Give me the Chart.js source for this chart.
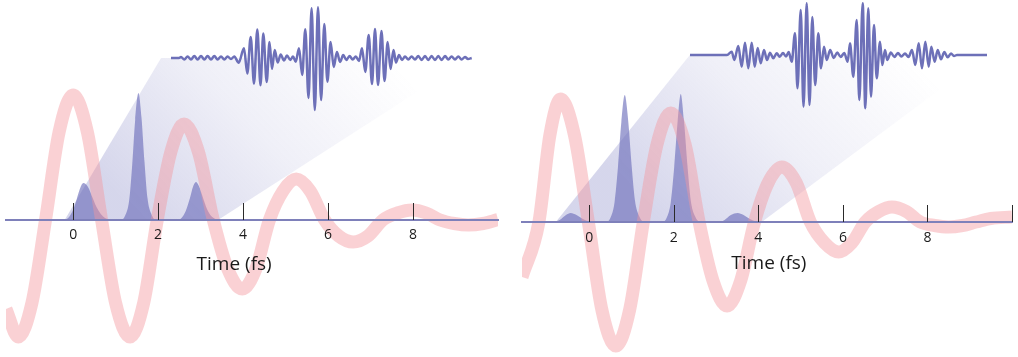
<!DOCTYPE html>
<html><head><meta charset="utf-8">
<script src="https://cdn.jsdelivr.net/npm/chart.js@4.4.1/dist/chart.umd.min.js"></script>
<style>
html,body{margin:0;padding:0;background:#fff;width:1018px;height:357px;overflow:hidden}
.panel{position:absolute;top:0;width:509px;height:357px}
canvas{display:block}
</style></head><body>
<div class="panel" style="left:0"><canvas id="c1" width="509" height="357"></canvas></div>
<div class="panel" style="left:509px"><canvas id="c2" width="509" height="357"></canvas></div>
<script>
// ---------- data (time in fs, amplitudes in arbitrary units) ----------
const tickValues = [0, 2, 4, 6, 8];
const tickMarksLeft = [0, 2, 4, 6, 8];
const tickMarksRight = [0, 2, 4, 6, 8, 10];
const axisTitle = 'Time (fs)';

// damped oscillation (pink)
const pinkLeftT = [-1.58, -1.29, -0.97, -0.65, -0.33, 0, 0.335, 0.67, 1.0, 1.34, 1.66, 1.98, 2.3, 2.61, 2.95, 3.3,
  3.64, 3.98, 4.3, 4.62, 4.94, 5.25, 5.58, 5.92, 6.25, 6.59, 6.94, 7.29, 7.63, 7.98, 8.31, 8.64, 8.97, 9.3, 9.65, 10];
const pinkLeftV = [-0.89, -1.17, -0.83, 0, 0.88, 1.25, 0.88, 0, -0.83, -1.17, -0.83, 0, 0.68, 0.96, 0.68, 0,
  -0.49, -0.69, -0.49, 0, 0.29, 0.41, 0.29, 0, -0.16, -0.22, -0.16, 0, 0.07, 0.10, 0.07, 0, -0.035, -0.05, -0.035, 0.005];
const pinkRightT = [-1.59, -1.19, -0.93, -0.675, -0.35, -0.02, 0.3, 0.63, 0.955, 1.28, 1.6, 1.93, 2.27, 2.6, 2.93, 3.26,
  3.58, 3.91, 4.23, 4.56, 4.9, 5.23, 5.57, 5.9, 6.21, 6.53, 6.85, 7.16, 7.5, 7.83, 8.17, 8.5, 8.83, 9.15, 9.5, 10];
const pinkRightV = [-0.55, 0, 0.87, 1.23, 0.87, 0, -0.88, -1.24, -0.88, 0, 0.77, 1.09, 0.77, 0, -0.59, -0.84,
  -0.59, 0, 0.39, 0.55, 0.39, 0, -0.21, -0.30, -0.21, 0, 0.105, 0.15, 0.105, 0, -0.035, -0.05, -0.035, 0, 0.035, 0.05];

// pulse train (purple filled peaks)
const peakLeftT = [-1.58, -0.3, -0.15, -0.05, 0.05, 0.15, 0.24, 0.35, 0.45, 0.55, 0.65, 0.75, 0.9,
  1.12, 1.22, 1.32, 1.39, 1.46, 1.537, 1.61, 1.68, 1.75, 1.84, 1.96,
  2.45, 2.55, 2.65, 2.75, 2.82, 2.89, 2.96, 3.05, 3.15, 3.25, 3.35, 3.45, 10];
const peakLeftV = [0, 0, 0.01, 0.06, 0.16, 0.30, 0.37, 0.33, 0.23, 0.13, 0.06, 0.02, 0,
  0, 0.04, 0.20, 0.55, 1.00, 1.27, 1.02, 0.58, 0.22, 0.06, 0,
  0, 0.02, 0.09, 0.22, 0.33, 0.38, 0.34, 0.23, 0.11, 0.04, 0.01, 0, 0];
const peakRightT = [-1.59, -0.85, -0.7, -0.55, -0.44, -0.3, -0.15, 0, 0.1,
  0.40, 0.50, 0.60, 0.68, 0.76, 0.84, 0.92, 1.00, 1.08, 1.18, 1.30,
  1.73, 1.83, 1.93, 2.01, 2.09, 2.165, 2.24, 2.32, 2.40, 2.50, 2.64,
  3.08, 3.2, 3.35, 3.51, 3.65, 3.8, 3.95, 4.05, 10];
const peakRightV = [0, 0, 0.02, 0.07, 0.09, 0.07, 0.03, 0.005, 0,
  0, 0.04, 0.20, 0.55, 1.00, 1.27, 1.02, 0.58, 0.22, 0.06, 0,
  0, 0.04, 0.20, 0.55, 1.00, 1.28, 1.02, 0.58, 0.22, 0.06, 0,
  0, 0.02, 0.07, 0.09, 0.07, 0.03, 0.005, 0, 0];

// light beam (top and bottom edges)
const beamLeftTopT = [-0.2, 2.07, 9.34];
const beamLeftTopV = [0, 1.62, 1.62];
const beamLeftBotT = [-0.2, 3.41, 9.34];
const beamLeftBotV = [0, 0, 1.62];
const beamRightTopT = [-0.79, 2.38, 9.39];
const beamRightTopV = [0, 1.67, 1.67];
const beamRightBotT = [-0.79, 4.08, 9.39];
const beamRightBotV = [0, 0, 1.67];

// inset field waveforms (inset units)
const insetLeftX = [0, 8, 10, 13.3, 16.6, 20, 23.3, 26.6, 30, 33.3, 36.6, 40, 43.3, 46.6, 50, 53.3, 56.6, 60, 63.3, 67.7,
  73, 76.3, 79.7, 83, 86.3, 89.5, 92.3, 95.7, 98.5, 101, 103.7, 106.7, 109.7, 113, 116, 119.3, 122, 124.7,
  128, 131.2, 134.3, 137.5, 140.6, 143.8, 147, 150.1, 153.3, 156.4, 159.6, 162.7, 165.9, 169.1, 172.2, 175.4, 178.5, 181.7, 184.8, 188,
  191, 194.3, 197.7, 201, 204, 207, 210.5, 213.5, 216.7, 219.5, 222.5, 225, 228, 231,
  234, 237.3, 240.6, 244, 247.3, 250.6, 254, 257.3, 260.6, 264, 267.3, 270.6, 274, 277.3, 280.6, 284, 287.3, 290.6, 294, 297, 300.7];
const insetLeftY = [0, 0, 1, -1.5, 1.5, -1.5, 2, -1.5, 2, -1.5, 2, -1.5, 2, -1.5, 1.5, -1.5, 1.5, -1, 1.5, -4.7,
  9.7, -15.6, 21, -25.6, 28.4, -27.3, 24.4, -24, 16, -11, 8, -4.5, 3.5, -2.5, 2.5, -2, 1.5, -3.7,
  9.7, -17, 28.7, -40, 49.7, -52, 50.7, -42, 34, -23.7, 16, -9, 6, -4, 3, -2, 2, -1.5, 1.5, -3,
  9.7, -14, 23, -26, 29, -27, 27, -23, 16, -11, 8, -4.5, 3, -2,
  1.5, -1.5, 1.5, -1.5, 2, -2, 2, -2, 2, -2, 2, -2, 2, -1.5, 1.5, -1.5, 1.5, -1.5, 1, -1, 0];
const insetRightX = [0, 37,
  41.7, 44.3, 48.3, 51.7, 55, 58.3, 61.7, 64.7, 67.7, 70.7, 74, 77, 80, 83.3, 86.7, 89.7, 93, 96, 98.7, 101.7,
  105, 107.5, 110.7, 113.5, 116.7, 119.5, 122.3, 125.2, 128.3, 131, 134, 136.7, 140.2, 143.7, 147.2, 150.7, 154.2, 157.7,
  160, 163.3, 166.7, 169.3, 172.7, 175.3, 178.3, 181, 184, 186.7, 190, 192.3, 195, 197.3, 200.8, 204.4, 207.9, 211.4, 215, 218.5,
  222, 225.3, 228.7, 232, 235.3, 238.7, 241.3, 244.7, 247.7, 251, 254.3, 257.7, 261, 264, 267, 297];
const insetRightY = [0, 0,
  3.3, -5, 9, -11.7, 12.3, -13.3, 12.3, -11.7, 7, -8.3, 5, -5, 2.3, -3.3, 1.7, -1.7, 2, -1.5, 3, -6.7,
  21.7, -33.3, 45, -51.7, 51.7, -50, 38, -30, 21.7, -13.3, 8.3, -5, 5, -3, 2.5, -2, 2, -6.7,
  11.7, -21.7, 35, -45, 51.7, -53.3, 46.7, -41.7, 30, -23.3, 13.3, -10, 5, -5, 2.5, -2, 2, -1.5, 1.5, -2,
  5, -10, 11.7, -13.3, 13.3, -11.7, 8.3, -6.7, 5, -4.3, 3, -2.3, 1.5, -1, 0, 0];

// ---------- rendering ----------
const pts = (xs, ys) => xs.map((x, i) => ({x, y: ys[i]}));
const PURPLE = '112,114,188';

const decorPlugin = {
  id: 'decor',
  afterDraw(chart, args, o) {
    const {ctx} = chart, xs = chart.scales.x, ys = chart.scales.y;
    const y0 = ys.getPixelForValue(0);
    ctx.save();
    ctx.strokeStyle = '#2a2a2a';
    ctx.lineWidth = 1;
    o.marks.forEach(v => {
      const px = Math.round(xs.getPixelForValue(v)) + 0.5;
      ctx.beginPath(); ctx.moveTo(px, y0); ctx.lineTo(px, y0 - 17); ctx.stroke();
    });
    ctx.font = '19px "Open Sans"';
    ctx.fillStyle = '#1a1a1a';
    ctx.textAlign = 'center';
    ctx.textBaseline = 'alphabetic';
    ctx.fillText(axisTitle, xs.getPixelForValue(o.titleT), ys.getPixelForValue(o.titleV));
    ctx.restore();
  }
};

function makeChart(id, p) {
  const gradient = (c) => {
    const ch = c.chart, sc = ch.scales;
    if (!ch.chartArea || !sc.x) return 'rgba(' + PURPLE + ',0.12)';
    const g = ch.ctx.createLinearGradient(sc.x.getPixelForValue(p.g0[0]), sc.y.getPixelForValue(p.g0[1]),
                                          sc.x.getPixelForValue(p.g1[0]), sc.y.getPixelForValue(p.g1[1]));
    g.addColorStop(0, 'rgba(' + PURPLE + ',0.29)');
    g.addColorStop(0.5, 'rgba(' + PURPLE + ',0.11)');
    g.addColorStop(0.85, 'rgba(' + PURPLE + ',0.03)');
    g.addColorStop(1, 'rgba(' + PURPLE + ',0)');
    return g;
  };
  return new Chart(document.getElementById(id), {
    type: 'line',
    data: {
      datasets: [
        { label: 'field', data: pts(p.insetX, p.insetY), xAxisID: 'x2', yAxisID: 'y2', order: 0,
          borderColor: '#6d70b8', borderWidth: 2.5, cubicInterpolationMode: 'monotone', fill: false, clip: 0 },
        { label: 'oscillation', data: pts(p.pinkT, p.pinkV), order: 1,
          borderColor: 'rgba(244,150,156,0.44)', borderWidth: 13, borderCapStyle: 'butt',
          cubicInterpolationMode: 'monotone', fill: false, clip: 0 },
        { label: 'pulses', data: pts(p.peakT, p.peakV), order: 2,
          borderWidth: 0, borderColor: 'rgba(0,0,0,0)', backgroundColor: 'rgba(' + PURPLE + ',0.66)',
          cubicInterpolationMode: 'monotone', fill: 'origin', clip: 0 },
        { label: 'beamTop', data: pts(p.beamTopT, p.beamTopV), order: 3,
          borderWidth: 0, borderColor: 'rgba(0,0,0,0)', backgroundColor: gradient, fill: '+1', clip: 0 },
        { label: 'beamBottom', data: pts(p.beamBotT, p.beamBotV), order: 4,
          borderWidth: 0, borderColor: 'rgba(0,0,0,0)', fill: false, clip: 0 }
      ]
    },
    options: {
      responsive: false,
      animation: false,
      events: [],
      layout: { padding: p.padding },
      elements: { point: { radius: 0 } },
      scales: {
        x: {
          type: 'linear', min: p.xMin, max: 10, position: { y: 0 },
          afterBuildTicks: (s) => { s.ticks = tickValues.map(v => ({ value: v })); },
          grid: { display: false, drawTicks: false },
          border: { display: true, color: '#7e80ba', width: 2, z: 1 },
          ticks: { z: 1, padding: p.labelPad, maxRotation: 0, autoSkip: false, color: '#1a1a1a',
                   font: { family: '"Open Sans"', size: 14 }, callback: (v) => String(v) }
        },
        y: { type: 'linear', min: p.yMin, max: p.yMax, display: false },
        x2: { type: 'linear', min: p.x2Min, max: p.x2Min + p.x2Span, display: false },
        y2: { type: 'linear', min: p.y2Max - 357, max: p.y2Max, display: false }
      },
      plugins: {
        legend: { display: false },
        tooltip: { enabled: false },
        decor: { marks: p.marks, titleT: p.titleT, titleV: p.titleV }
      }
    },
    plugins: [decorPlugin]
  });
}

makeChart('c1', {
  insetX: insetLeftX, insetY: insetLeftY, pinkT: pinkLeftT, pinkV: pinkLeftV,
  peakT: peakLeftT, peakV: peakLeftV, beamTopT: beamLeftTopT, beamTopV: beamLeftTopV,
  beamBotT: beamLeftBotT, beamBotV: beamLeftBotV, marks: tickMarksLeft,
  padding: { left: 6, right: 11, top: 0, bottom: 0 }, xMin: -1.58, yMin: -1.37, yMax: 2.20,
  x2Min: -165, x2Span: 492, y2Max: 58, labelPad: 7, titleT: 3.79, titleV: -0.50,
  g0: [1.6, 0], g1: [6.6, 2.0]
});
makeChart('c2', {
  insetX: insetRightX, insetY: insetRightY, pinkT: pinkRightT, pinkV: pinkRightV,
  peakT: peakRightT, peakV: peakRightV, beamTopT: beamRightTopT, beamTopV: beamRightTopV,
  beamBotT: beamRightBotT, beamBotV: beamRightBotV, marks: tickMarksRight,
  padding: { left: 13, right: 6, top: 0, bottom: 0 }, xMin: -1.59, yMin: -1.35, yMax: 2.22,
  x2Min: -168, x2Span: 490, y2Max: 55, labelPad: 8, titleT: 4.25, titleV: -0.47,
  g0: [1.7, 0], g1: [6.7, 2.05]
});
</script>
</body></html>
